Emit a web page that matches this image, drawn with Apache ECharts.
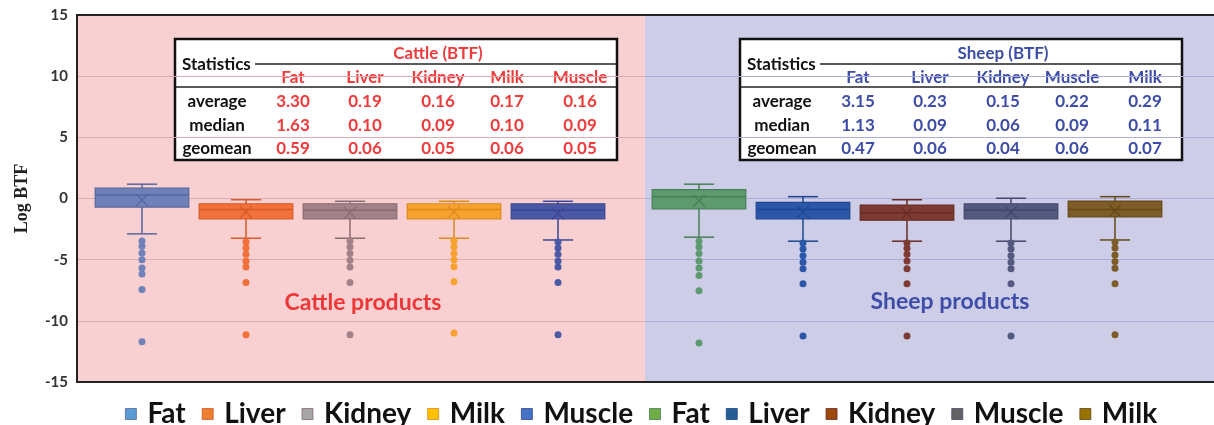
<!DOCTYPE html>
<html>
<head>
<meta charset="utf-8">
<style>
  html, body { margin: 0; padding: 0; background: #fff; }
  #main { width: 1214px; height: 425px; }
</style>
<script src="https://cdn.jsdelivr.net/npm/echarts/dist/echarts.min.js"></script>
</head>
<body>
<div id="main"></div>
<script>
// products in the order they appear
var cattleProducts = ["Fat", "Liver", "Kidney", "Milk", "Muscle"];
var sheepProducts = ["Fat", "Liver", "Kidney", "Muscle", "Milk"];

// [lower whisker, Q1, median, Q3, upper whisker, mean]  (log BTF)
var cattleBoxes = [
  [-2.89, -0.70, 0.29, 0.84, 1.17, -0.12],
  [-3.25, -1.66, -0.89, -0.43, -0.10, -1.11],
  [-3.25, -1.66, -0.97, -0.43, -0.23, -1.17],
  [-3.25, -1.66, -0.89, -0.43, -0.23, -1.11],
  [-3.39, -1.66, -0.97, -0.43, -0.23, -1.22]
];
var sheepBoxes = [
  [-3.16, -0.84, 0.15, 0.72, 1.17, -0.18],
  [-3.49, -1.66, -0.89, -0.31, 0.15, -1.11],
  [-3.49, -1.77, -1.17, -0.53, -0.10, -1.22],
  [-3.49, -1.66, -0.97, -0.43, 0.02, -1.11],
  [-3.39, -1.50, -0.89, -0.21, 0.15, -1.00]
];

var cattleOutliers = [
  [-3.47, -3.90, -4.45, -5.00, -5.69, -6.18, -7.44, -11.71],
  [-3.55, -4.04, -4.56, -5.11, -5.60, -6.86, -11.13],
  [-3.47, -3.96, -4.50, -5.05, -5.60, -6.86, -11.13],
  [-3.49, -3.96, -4.50, -5.00, -5.57, -6.80, -10.99],
  [-3.55, -4.04, -4.56, -5.11, -5.60, -6.86, -11.13]
];
var sheepOutliers = [
  [-3.49, -3.96, -4.50, -5.11, -5.69, -6.29, -7.54, -11.82],
  [-3.63, -4.12, -4.67, -5.22, -5.74, -6.97, -11.24],
  [-3.63, -4.07, -4.56, -5.11, -5.74, -6.97, -11.24],
  [-3.63, -4.12, -4.67, -5.22, -5.74, -6.97, -11.24],
  [-3.55, -4.04, -4.62, -5.16, -5.71, -6.97, -11.13]
];

// summary tables
var statRows = ["average", "median", "geomean"];
var cattleStats = [
  [3.30, 0.19, 0.16, 0.17, 0.16],
  [1.63, 0.10, 0.09, 0.10, 0.09],
  [0.59, 0.06, 0.05, 0.06, 0.05]
];
var sheepStats = [
  [3.15, 0.23, 0.15, 0.22, 0.29],
  [1.13, 0.09, 0.06, 0.09, 0.11],
  [0.47, 0.06, 0.04, 0.06, 0.07]
];

// box fill / line colours as drawn, and legend swatch colours
var cattleFill = ["#6f81b9", "#f2703a", "#a38189", "#f7a12f", "#4b58a6"];
var cattleLine = ["#56679f", "#d65a26", "#876a72", "#dc8a1c", "#384592"];
var sheepFill = ["#5e9a6f", "#2b57a8", "#7e3b34", "#53597f", "#7d5c27"];
var sheepLine = ["#467f56", "#1d4690", "#672a24", "#41476b", "#654818"];
var cattleLegend = ["#5b9bd5", "#ed7d31", "#a5a5a5", "#ffc000", "#4472c4"];
var sheepLegend = ["#70ad47", "#255e91", "#9e480e", "#636363", "#997300"];

var chart = echarts.init(document.getElementById("main"));
var FONT = "Lato";

function boxRenderer(fill, line) {
  return function (params, api) {
    var i = api.value(0);
    var lo = api.coord([i, api.value(1)]);
    var q1 = api.coord([i, api.value(2)]);
    var md = api.coord([i, api.value(3)]);
    var q3 = api.coord([i, api.value(4)]);
    var hi = api.coord([i, api.value(5)]);
    var mn = api.coord([i, api.value(6)]);
    var band = api.size([1, 0])[0];
    var half = band * 0.45;
    var cap = band * 0.145;
    var cx = lo[0];
    var ls = { stroke: line, lineWidth: 1.5 };
    return {
      type: "group",
      children: [
        { type: "line", shape: { x1: cx, y1: q3[1], x2: cx, y2: hi[1] }, style: ls },
        { type: "line", shape: { x1: cx - cap, y1: hi[1], x2: cx + cap, y2: hi[1] }, style: ls },
        { type: "line", shape: { x1: cx, y1: q1[1], x2: cx, y2: lo[1] }, style: ls },
        { type: "line", shape: { x1: cx - cap, y1: lo[1], x2: cx + cap, y2: lo[1] }, style: ls },
        { type: "rect", shape: { x: cx - half, y: q3[1], width: half * 2, height: q1[1] - q3[1] },
          style: { fill: fill, stroke: line, lineWidth: 1.2 } },
        { type: "line", shape: { x1: cx - half, y1: md[1], x2: cx + half, y2: md[1] }, style: ls },
        { type: "line", shape: { x1: cx - 6, y1: mn[1] - 6, x2: cx + 6, y2: mn[1] + 6 }, style: { stroke: line, lineWidth: 1.2 } },
        { type: "line", shape: { x1: cx - 6, y1: mn[1] + 6, x2: cx + 6, y2: mn[1] - 6 }, style: { stroke: line, lineWidth: 1.2 } }
      ]
    };
  };
}

var series = [];
var legendData = [];
function addGroup(prefix, products, boxes, outliers, fills, lines, legendColors, axisIndex) {
  products.forEach(function (p, i) {
    var name = prefix + " " + p;
    var b = boxes[i];
    series.push({
      name: name,
      type: "custom",
      xAxisIndex: axisIndex,
      yAxisIndex: axisIndex,
      renderItem: boxRenderer(fills[i], lines[i]),
      encode: { x: 0, y: [1, 2, 3, 4, 5, 6] },
      itemStyle: { color: legendColors[i] },
      data: [[i, b[0], b[1], b[2], b[3], b[4], b[5]]],
      z: 3
    });
    series.push({
      name: name,
      type: "scatter",
      xAxisIndex: axisIndex,
      yAxisIndex: axisIndex,
      symbolSize: 7,
      itemStyle: { color: fills[i], opacity: 1 },
      data: outliers[i].map(function (v) { return [i, v]; }),
      z: 4
    });
    legendData.push({
      name: name,
      itemStyle: { color: legendColors[i], borderColor: lines[i], borderWidth: 0.8 }
    });
  });
}
addGroup("Cattle", cattleProducts, cattleBoxes, cattleOutliers, cattleFill, cattleLine, cattleLegend, 0);
addGroup("Sheep", sheepProducts, sheepBoxes, sheepOutliers, sheepFill, sheepLine, sheepLegend, 1);

// statistics table drawn as graphic elements
var TFONT = "bold 17px " + FONT;
function table(left, title, products, stats, color) {
  var cols = [118, 190, 263, 332, 405];
  var rowY = [102, 126, 149];
  var kids = [
    { type: "rect", shape: { x: left, y: 39, width: 442, height: 121 },
      style: { fill: "#fff", stroke: "#111", lineWidth: 2.5 } },
    { type: "line", shape: { x1: left + 80, y1: 64, x2: left + 442, y2: 64 }, style: { stroke: "#222", lineWidth: 1.5 } },
    { type: "line", shape: { x1: left, y1: 87, x2: left + 442, y2: 87 }, style: { stroke: "#222", lineWidth: 1.5 } },
    { type: "text", x: left + 7, y: 65, style: { text: "Statistics", fill: "#111", font: TFONT, textVerticalAlign: "middle" } },
    { type: "text", x: left + 263, y: 54, style: { text: title, fill: color, font: TFONT, textAlign: "center", textVerticalAlign: "middle" } }
  ];
  products.forEach(function (p, j) {
    kids.push({ type: "text", x: left + cols[j], y: 78,
      style: { text: p, fill: color, font: TFONT, textAlign: "center", textVerticalAlign: "middle" } });
  });
  statRows.forEach(function (r, k) {
    kids.push({ type: "text", x: left + 42, y: rowY[k],
      style: { text: r, fill: "#111", font: TFONT, textAlign: "center", textVerticalAlign: "middle" } });
    stats[k].forEach(function (v, j) {
      kids.push({ type: "text", x: left + cols[j], y: rowY[k],
        style: { text: v.toFixed(2), fill: color, font: TFONT, textAlign: "center", textVerticalAlign: "middle" } });
    });
  });
  return { type: "group", z: 100, children: kids };
}

var frameAxis = { show: true, onZero: false, lineStyle: { color: "#222", width: 2 } };
var hiddenBits = { axisTick: { show: false }, axisLabel: { show: false }, splitLine: { show: false } };
function frameX(gridIndex, pos) {
  return Object.assign({ type: "value", gridIndex: gridIndex, min: 0, max: 1, position: pos, axisLine: frameAxis }, hiddenBits);
}

var option = {
  animation: false,
  grid: [
    { left: 90, width: 520, top: 15, bottom: 43 },
    { left: 647, width: 520, top: 15, bottom: 43 },
    { left: 77, right: 569, top: 15, bottom: 43, show: true, backgroundColor: "#f9d0d1", borderWidth: 0 },
    { left: 645, right: 0, top: 15, bottom: 43, show: true, backgroundColor: "#cdcde7", borderWidth: 0 }
  ],
  xAxis: [
    { type: "category", gridIndex: 0, data: cattleProducts, show: false },
    { type: "category", gridIndex: 1, data: sheepProducts, show: false },
    frameX(2, "bottom"), frameX(2, "top"), frameX(3, "bottom"), frameX(3, "top")
  ],
  yAxis: [
    { type: "value", gridIndex: 0, min: -15, max: 15, show: false },
    { type: "value", gridIndex: 1, min: -15, max: 15, show: false },
    {
      type: "value", gridIndex: 2, min: -15, max: 15, interval: 5,
      name: "Log BTF", nameLocation: "middle", nameGap: 46,
      nameTextStyle: { fontFamily: "Liberation Serif", fontWeight: "bold", fontSize: 18, color: "#222" },
      axisLine: { show: true, lineStyle: { color: "#222", width: 2 } }, axisTick: { show: false },
      axisLabel: { fontFamily: FONT, fontWeight: "bold", fontSize: 15, color: "#333", margin: 9 },
      splitLine: { lineStyle: { color: "#deacb0", width: 1.2 } }
    },
    {
      type: "value", gridIndex: 3, min: -15, max: 15, interval: 5,
      axisLine: { show: false }, axisTick: { show: false }, axisLabel: { show: false },
      splitLine: { lineStyle: { color: "#adadd9", width: 1.2 } }
    }
  ],
  legend: {
    left: 120, top: 395,
    icon: "rect", itemWidth: 11, itemHeight: 11, itemGap: 16,
    data: legendData,
    formatter: function (n) { return n.split(" ")[1]; },
    textStyle: { fontFamily: FONT, fontWeight: "bold", fontSize: 28, color: "#111", padding: [0, 0, 0, 6] }
  },
  graphic: [
    table(175, "Cattle (BTF)", cattleProducts, cattleStats, "#ef3b3b"),
    table(740, "Sheep (BTF)", sheepProducts, sheepStats, "#3d4da8"),
    { type: "text", x: 363, y: 303, z: 50, style: { text: "Cattle products", fill: "#ee3636", font: "bold 23px " + FONT, textAlign: "center", textVerticalAlign: "middle" } },
    { type: "text", x: 950, y: 302, z: 50, style: { text: "Sheep products", fill: "#3e4ea8", font: "bold 23px " + FONT, textAlign: "center", textVerticalAlign: "middle" } }
  ],
  series: series
};
chart.setOption(option);
</script>
</body>
</html>
